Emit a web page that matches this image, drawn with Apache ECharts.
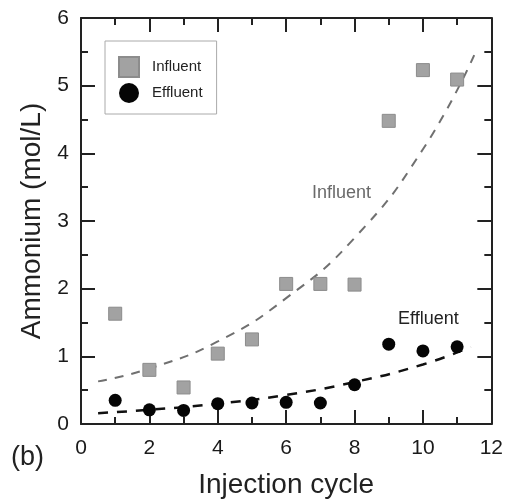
<!DOCTYPE html>
<html>
<head>
<meta charset="utf-8">
<script src="https://cdn.jsdelivr.net/npm/echarts@6/dist/echarts.min.js"></script>
<style>
  html, body { margin: 0; padding: 0; background: #fff; }
  #chart { width: 506px; height: 504px; }
</style>
</head>
<body>
<div id="chart"></div>
<script>
// measured points (injection cycle, ammonium mol/L)
var cycles = [1, 2, 3, 4, 5, 6, 7, 8, 9, 10, 11];
var influent = [1.63, 0.80, 0.54, 1.04, 1.25, 2.07, 2.07, 2.06, 4.48, 5.23, 5.09];
var effluent = [0.35, 0.21, 0.20, 0.30, 0.31, 0.32, 0.31, 0.58, 1.18, 1.08, 1.14];

// dashed fit curves
var influentFitX = [0.5, 2, 4, 6, 8, 10, 11.5];
var influentFitY = [0.63, 0.82, 1.22, 1.86, 2.75, 4.06, 5.45];
var effluentFitX = [0.5, 2, 4, 6, 8, 10, 11.4];
var effluentFitY = [0.16, 0.21, 0.30, 0.43, 0.62, 0.88, 1.14];

var xTicks = [0, 2, 4, 6, 8, 10, 12];
var yTicks = [0, 1, 2, 3, 4, 5, 6];

var font = 'Liberation Sans, Arial, Helvetica, sans-serif';
var axisColor = '#222';

function pairs(xs, ys) {
  return xs.map(function (x, i) { return [x, ys[i]]; });
}

var chart = echarts.init(document.getElementById('chart'));

var baseAxis = function (extra) {
  var ax = {
    type: 'value',
    axisLine: { show: true, onZero: false, lineStyle: { color: axisColor, width: 2 } },
    axisTick: { show: true, inside: true, length: 14, lineStyle: { color: axisColor, width: 2 } },
    minorTick: { show: true, splitNumber: 2, length: 7, lineStyle: { color: axisColor, width: 2 } },
    splitLine: { show: false },
    axisLabel: { show: false }
  };
  return Object.assign(ax, extra);
};

var option = {
  animation: false,
  backgroundColor: '#fff',
  grid: { left: 81, right: 14, top: 18, bottom: 73 },
  xAxis: [
    baseAxis({
      position: 'bottom',
      min: xTicks[0], max: xTicks[xTicks.length - 1], interval: 2,
      name: 'Injection cycle',
      nameLocation: 'middle',
      nameGap: 47,
      nameTextStyle: { fontFamily: font, fontSize: 28, color: '#222' },
      axisLabel: { show: true, margin: 14, fontFamily: font, fontSize: 21, color: '#1a1a1a' }
    }),
    baseAxis({
      position: 'top',
      min: xTicks[0], max: xTicks[xTicks.length - 1], interval: 2
    })
  ],
  yAxis: [
    baseAxis({
      position: 'left',
      min: yTicks[0], max: yTicks[yTicks.length - 1], interval: 1,
      name: 'Ammonium (mol/L)',
      nameLocation: 'middle',
      nameGap: 33,
      nameTextStyle: { fontFamily: font, fontSize: 28, color: '#222' },
      axisLabel: { show: true, margin: 12, fontFamily: font, fontSize: 21, color: '#1a1a1a' }
    }),
    baseAxis({
      position: 'right',
      min: yTicks[0], max: yTicks[yTicks.length - 1], interval: 1
    })
  ],
  legend: {
    left: 105,
    top: 41,
    orient: 'vertical',
    data: ['Influent', 'Effluent'],
    itemWidth: 20,
    itemHeight: 20,
    itemGap: 5,
    padding: [15, 14, 11, 13],
    borderColor: '#aaa',
    borderWidth: 1,
    textStyle: { fontFamily: font, fontSize: 15, color: '#222', padding: [0, 0, 0, 8] }
  },
  series: [
    {
      name: 'Influent fit',
      type: 'line',
      data: pairs(influentFitX, influentFitY),
      smooth: true,
      showSymbol: false,
      silent: true,
      lineStyle: { color: '#707070', width: 2, type: [9, 8] },
      z: 1
    },
    {
      name: 'Effluent fit',
      type: 'line',
      data: pairs(effluentFitX, effluentFitY),
      smooth: true,
      showSymbol: false,
      silent: true,
      lineStyle: { color: '#111', width: 2.5, type: [10, 9] },
      z: 1
    },
    {
      name: 'Influent',
      type: 'scatter',
      symbol: 'rect',
      symbolSize: 13,
      data: pairs(cycles, influent),
      itemStyle: { color: '#a2a2a2', borderColor: '#8c8c8c', borderWidth: 1, opacity: 1 },
      z: 3
    },
    {
      name: 'Effluent',
      type: 'scatter',
      symbol: 'circle',
      symbolSize: 13,
      data: pairs(cycles, effluent),
      itemStyle: { color: '#050505', opacity: 1 },
      z: 3
    }
  ],
  graphic: [
    {
      type: 'text', left: 312, top: 184,
      style: { text: 'Influent', fontFamily: font, fontSize: 18, fill: '#6a6a6a' }
    },
    {
      type: 'text', left: 398, top: 310,
      style: { text: 'Effluent', fontFamily: font, fontSize: 18, fill: '#222' }
    },
    {
      type: 'text', left: 11, top: 444,
      style: { text: '(b)', fontFamily: font, fontSize: 27, fill: '#222' }
    }
  ]
};

chart.setOption(option);
</script>
</body>
</html>
